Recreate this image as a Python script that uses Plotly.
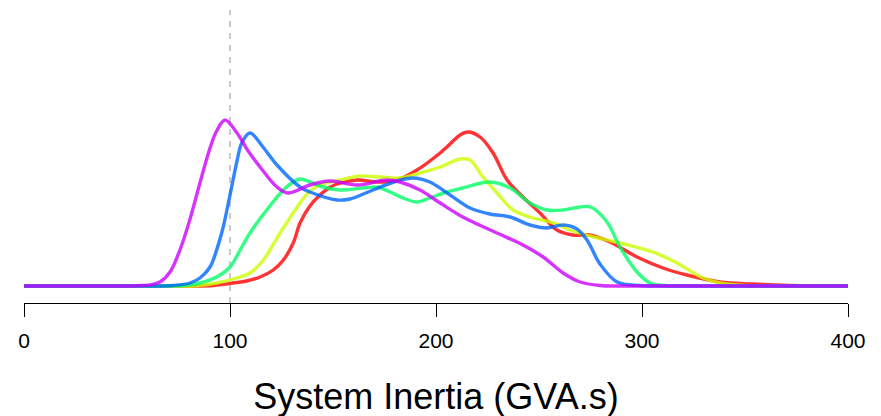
import plotly.graph_objects as go

# Density curves (y in arbitrary density units)
red_x = [0, 40, 80, 92, 101.5, 108, 114.6, 121, 125.9, 130.7, 134, 138.8, 143.7, 148, 152, 161.7, 171.4,
         181, 190.8, 202, 205.3, 211.7, 215.5, 221.4, 227.7, 234.5, 242.2, 250.5, 258.7, 266.5, 274.8,
         284.5, 297.6, 310.2, 321.8, 337.9, 353.9, 371.8, 385, 400]
red_y = [0, 0, 0, 0.5, 3, 5, 9, 16, 26, 43, 63, 80, 91, 98, 102, 106, 104,
         106, 116, 133, 139, 151, 154, 149, 133, 106, 89, 73, 56, 51, 51,
         44, 29, 18, 11, 4, 2, 0.5, 0, 0]

yellow_x = [0, 40, 75, 85, 93.5, 103.3, 109.7, 116.2, 119.4, 124.3, 127.5, 134, 138.8, 143.7, 153.4,
            163, 172.8, 182.5, 192.2, 202, 211.7, 216.5, 222.8, 229.6, 237.4, 245.6, 258.7, 265, 274.8,
            289.3, 305.3, 317, 329.6, 337.9, 350, 365, 400]
yellow_y = [0, 0, 0, 0.5, 3, 8, 13, 26, 36, 53, 63, 83, 95, 101, 106,
            110, 109, 108, 113, 119, 127, 126, 109, 93, 76, 69, 62, 56, 50,
            43, 34, 23, 8, 3, 0.5, 0, 0]

green_x = [0, 40, 68, 77, 85.4, 93.5, 100, 104.9, 109.7, 117.8, 125.9, 130.7, 134, 139, 145, 153.4,
           164.6, 171.4, 177.7, 184, 190.8, 197, 205.3, 213, 226, 236, 245.6, 253.9, 261.7, 270, 275,
           283, 289.3, 297.6, 303.9, 311, 325, 400]
green_y = [0, 0, 0, 0.5, 3, 9, 19, 36, 53, 76, 96, 104, 107, 104, 99, 96,
           98, 99, 94, 88, 84, 88, 94, 98, 104, 98, 83, 76, 76, 79, 79,
           64, 39, 14, 3, 0.5, 0, 0]

blue_x = [0, 40, 63, 72, 80.6, 85.4, 90.3, 93.5, 96.7, 99.2, 100.8, 103.3, 105.7, 109.7, 116, 122.8,
          134, 138.8, 152, 158.3, 169.4, 181, 188.8, 197, 206.8, 216.5, 226.2, 236, 245.6, 253.9,
          261.7, 268.4, 273.3, 279.6, 287.9, 299, 312, 400]
blue_y = [0, 0, 0, 0.5, 3, 8, 19, 36, 59, 83, 99, 124, 143, 153, 139, 121,
          99, 94, 86, 87, 96, 105, 108, 104, 91, 78, 72, 69, 61, 58,
          61, 57, 46, 22, 4, 0.5, 0, 0]

magenta_x = [0, 30, 48, 57, 61.5, 66, 70.9, 75.7, 80.6, 85.4, 90.3, 93.5, 97.6, 103.4, 108.5, 114.6,
             122.8, 128.2, 138.8, 148.5, 161.7, 176.2, 182.5, 192.2, 202, 213, 229.6, 242.2, 252,
             261.7, 270, 279.6, 292, 400]
magenta_y = [0, 0, 0, 0.5, 1.2, 4, 14, 36, 67, 103, 138, 155, 166, 153, 136, 119,
             99, 93, 101, 105, 101, 106, 104, 96, 83, 69, 53, 41, 29,
             13, 4, 0.5, 0, 0]

series = [
    (red_x, red_y, "rgba(255,0,0,0.8)"),
    (yellow_x, yellow_y, "rgba(204,255,0,0.8)"),
    (green_x, green_y, "rgba(0,255,102,0.8)"),
    (blue_x, blue_y, "rgba(0,102,255,0.8)"),
    (magenta_x, magenta_y, "rgba(204,0,255,0.8)"),
]

tick_vals = [0, 100, 200, 300, 400]
tick_text = ["0", "100", "200", "300", "400"]
ref_line_x = 100

fig = go.Figure()
for xs, ys, col in series:
    fig.add_trace(go.Scatter(x=xs, y=ys, mode="lines",
                             line=dict(color=col, width=3.4, shape="spline", smoothing=1.0),
                             hoverinfo="skip", showlegend=False))

fig.add_shape(type="line", xref="x", yref="paper", x0=ref_line_x, x1=ref_line_x, y0=0, y1=1,
              line=dict(color="#BBBBBB", width=1.5, dash="6px,6px"), layer="below")

font_family = "Liberation Sans, Arial, Helvetica, sans-serif"
fig.update_layout(
    width=881, height=416,
    margin=dict(l=16, r=41, t=2, b=121, autoexpand=False),
    paper_bgcolor="white", plot_bgcolor="white",
    font=dict(family=font_family, color="black"),
    xaxis=dict(range=[0, 400], tickvals=tick_vals, ticktext=tick_text,
               showgrid=False, zeroline=False, showline=True, linecolor="black", linewidth=1.3,
               ticks="outside", ticklen=13, tickwidth=1.3, tickcolor="black",
               tickfont=dict(size=21, family=font_family, color="black"),
               ticklabelstandoff=6,
               title=dict(text="System Inertia (GVA.s)", font=dict(size=36, family=font_family, color="black"),
                          standoff=32)),
    yaxis=dict(range=[-17, 276], visible=False, showgrid=False, zeroline=False),
)

fig.write_html("out.html")
